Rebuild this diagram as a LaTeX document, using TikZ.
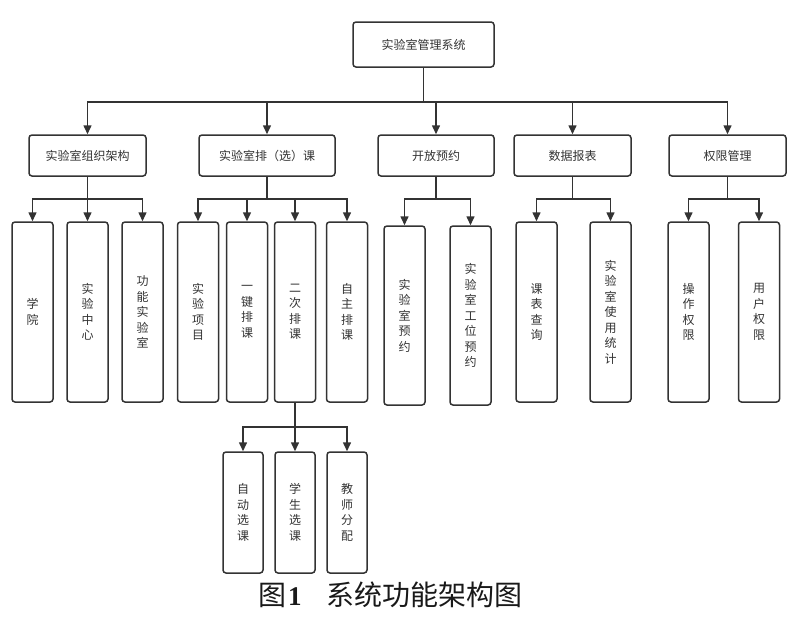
\documentclass[tikz,border=0pt]{standalone}
\usepackage{fontspec}
\newfontfamily\cjk{Noto Sans CJK SC}
\newfontfamily\capnum{Liberation Serif}
\usetikzlibrary{arrows.meta}
\begin{document}
\begin{tikzpicture}[x=1pt,y=-1pt,
  box/.style={draw=black!80, line width=1.5pt, rounded corners=3pt, fill=white, inner sep=0pt,
              text=black!80, font=\cjk\fontsize{12}{15.5}\selectfont, align=center},
  hbox/.style={box, minimum height=41pt},
  vbox/.style={box, minimum width=41pt, minimum height=180pt},
  sbox/.style={box, minimum width=40pt, minimum height=121pt},
  arr/.style={draw=black!80, line width=1.5pt, -{Triangle[length=9pt,width=8pt]}},
  captext/.style={inner sep=0pt, anchor=west, text=black!90}
]
\useasboundingbox (0,0) rectangle (800,616);

% root
\node[box, minimum width=141pt, minimum height=45pt] (root) at (423.5,44.5) {实验室管理系统};

% level 2
\node[hbox, minimum width=117pt] (org)   at (87.5,155.5)  {实验室组织架构};
\node[hbox, minimum width=136pt] (sched) at (267,155.5)   {实验室排（选）课};
\node[hbox, minimum width=116pt] (open)  at (436,155.5)   {开放预约};
\node[hbox, minimum width=117pt] (data)  at (572.5,155.5) {数据报表};
\node[hbox, minimum width=117pt] (perm)  at (727.5,155.5) {权限管理};

% level 3
\node[vbox] (xy)   at (32.5,312)  {学\\院};
\node[vbox] (sz)   at (87.5,312)  {实\\验\\中\\心};
\node[vbox] (gn)   at (142.5,312) {功\\能\\实\\验\\室};
\node[vbox] (xm)   at (198,312)   {实\\验\\项\\目};
\node[vbox] (yj)   at (247,312)   {一\\键\\排\\课};
\node[vbox] (ec)   at (295,312)   {二\\次\\排\\课};
\node[vbox] (zz)   at (347,312)   {自\\主\\排\\课};
\node[vbox, minimum height=179pt] (syy) at (404.5,315.5) {实\\验\\室\\预\\约};
\node[vbox, minimum height=179pt] (gw)  at (470.5,315.5) {实\\验\\室\\工\\位\\预\\约};
\node[vbox] (kb)   at (536.5,312) {课\\表\\查\\询};
\node[vbox] (tj)   at (610.5,312) {实\\验\\室\\使\\用\\统\\计};
\node[vbox] (cz)   at (688.5,312) {操\\作\\权\\限};
\node[vbox] (yh)   at (759,312)   {用\\户\\权\\限};

% level 4
\node[sbox] (zd) at (243,512.5) {自\\动\\选\\课};
\node[sbox] (xs) at (295,512.5) {学\\生\\选\\课};
\node[sbox] (js) at (347,512.5) {教\\师\\分\\配};

% buses
\coordinate (b1) at (0,102);
\coordinate (b2) at (0,199);
\coordinate (b3) at (0,427);

\foreach \c in {org,sched,open,data,perm}
  \draw[arr] (root.south) -- (root.south |- b1) -| (\c.north);
\foreach \c in {xy,sz,gn}
  \draw[arr] (org.south) -- (org.south |- b2) -| (\c.north);
\foreach \c in {xm,yj,ec,zz}
  \draw[arr] (sched.south) -- (sched.south |- b2) -| (\c.north);
\foreach \c in {syy,gw}
  \draw[arr] (open.south) -- (open.south |- b2) -| (\c.north);
\foreach \c in {kb,tj}
  \draw[arr] (data.south) -- (data.south |- b2) -| (\c.north);
\foreach \c in {cz,yh}
  \draw[arr] (perm.south) -- (perm.south |- b2) -| (\c.north);
\foreach \c in {zd,xs,js}
  \draw[arr] (ec.south) -- (ec.south |- b3) -| (\c.north);

% caption
\node[captext, font=\cjk\fontsize{28}{28}\selectfont] (cap1) at (258,595) {图\hspace{2pt}{\capnum\bfseries\fontsize{27}{27}\selectfont 1}};
\node[captext, font=\cjk\fontsize{28}{28}\selectfont] (cap2) at (326,595) {系统功能架构图};
\end{tikzpicture}
\end{document}
